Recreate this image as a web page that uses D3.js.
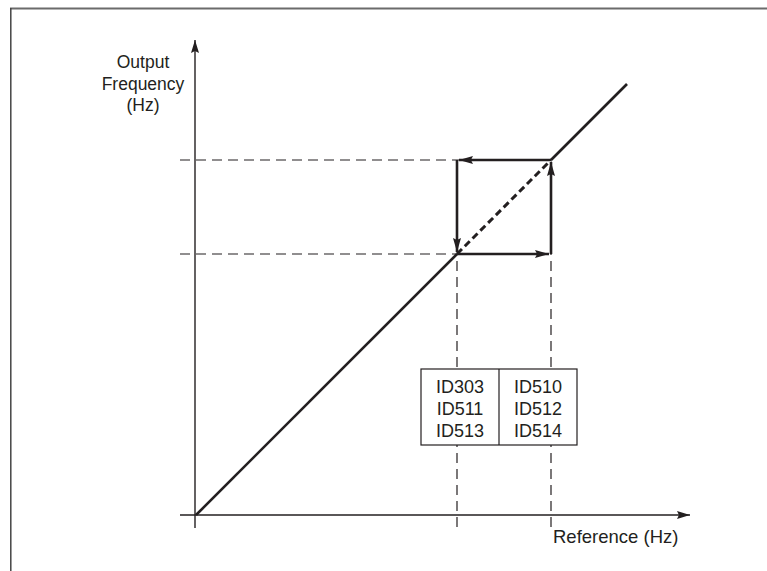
<!DOCTYPE html>
<html>
<head>
<meta charset="utf-8">
<script src="https://cdn.jsdelivr.net/npm/d3@7"></script>
<style>
  body { margin: 0; background: #fff; }
  text { font-family: "Liberation Sans", Arial, sans-serif; fill: #231f20; }
</style>
</head>
<body>
<div id="chart"></div>
<script>
// values in Hz-like units
var axisX = [-1.6, 49.4]
var axisY = [-1.3, 47.5]
var lowHz = 26.1
var highHz = 35.5
var diagonal = [0, 43.1]
var dashFrom = -1.6
var dashTo = -1.2
var tableEdges = [22.5, 30.3, 38.1]
var tableTop = 14.6
var tableBottom = 7.0
var tableCols = [['ID303', 'ID511', 'ID513'], ['ID510', 'ID512', 'ID514']]
var yLabel = ['Output', 'Frequency', '(Hz)']
var xLabel = 'Reference (Hz)'

var width = 767, height = 571
var ink = '#231f20'

var svg = d3.select('#chart').append('svg')
  .attr('width', width).attr('height', height)

var x = d3.scaleLinear().domain([0, 50]).range([196, 696])
var y = d3.scaleLinear().domain([0, 50]).range([515, 15])

// frame
svg.append('line').attr('x1', 10).attr('x2', width).attr('y1', 8.5).attr('y2', 8.5)
  .attr('stroke', '#6b6b6b').attr('stroke-width', 2.2)
svg.append('line').attr('x1', 10.8).attr('x2', 10.8).attr('y1', 8).attr('y2', height)
  .attr('stroke', '#444').attr('stroke-width', 1.5)

var defs = svg.append('defs')
function marker(id, w, l) {
  defs.append('marker').attr('id', id)
    .attr('viewBox', '0 0 ' + l + ' ' + w)
    .attr('markerUnits', 'userSpaceOnUse')
    .attr('markerWidth', l).attr('markerHeight', w)
    .attr('refX', l).attr('refY', w / 2)
    .attr('orient', 'auto')
    .append('path').attr('d', 'M0,0L' + l + ',' + (w / 2) + 'L0,' + w + 'L' + (l * 0.15) + ',' + (w / 2) + 'Z')
    .attr('fill', ink)
}
marker('axhead', 8, 13)
marker('head', 8, 14)

// dashed guide lines
var guides = svg.append('g').attr('stroke', ink).attr('stroke-width', 1.2)
  .attr('stroke-dasharray', '10,6').attr('fill', 'none')
;[lowHz, highHz].forEach(function(v) {
  guides.append('line').attr('x1', x(dashFrom)).attr('x2', x(v)).attr('y1', y(v)).attr('y2', y(v))
  guides.append('line').attr('x1', x(v)).attr('x2', x(v)).attr('y1', y(dashTo)).attr('y2', y(lowHz))
})

// table (covers the dashed lines)
var tb = svg.append('g')
tb.append('rect')
  .attr('x', x(tableEdges[0])).attr('y', y(tableTop))
  .attr('width', x(tableEdges[2]) - x(tableEdges[0]))
  .attr('height', y(tableBottom) - y(tableTop))
  .attr('fill', '#fff').attr('stroke', ink).attr('stroke-width', 1.2)
tb.append('line').attr('x1', x(tableEdges[1])).attr('x2', x(tableEdges[1]))
  .attr('y1', y(tableTop)).attr('y2', y(tableBottom))
  .attr('stroke', ink).attr('stroke-width', 1.2)
tableCols.forEach(function(col, i) {
  var cx = (x(tableEdges[i]) + x(tableEdges[i + 1])) / 2
  col.forEach(function(t, j) {
    tb.append('text').attr('x', cx).attr('y', y(tableTop) + 24 + j * 22)
      .attr('text-anchor', 'middle').style('font-size', '18px').text(t)
  })
})

// axes
svg.append('line').attr('x1', x(axisX[0])).attr('x2', x(axisX[1])).attr('y1', y(0)).attr('y2', y(0))
  .attr('stroke', ink).attr('stroke-width', 1.4).attr('marker-end', 'url(#axhead)')
svg.append('line').attr('x1', x(-0.1)).attr('x2', x(-0.1)).attr('y1', y(axisY[0])).attr('y2', y(axisY[1]))
  .attr('stroke', ink).attr('stroke-width', 1.4).attr('marker-end', 'url(#axhead)')

// characteristic: solid outside, dashed inside the hysteresis band
var diag = svg.append('g').attr('stroke', ink).attr('fill', 'none')
diag.append('line').attr('x1', x(diagonal[0])).attr('y1', y(diagonal[0]))
  .attr('x2', x(lowHz)).attr('y2', y(lowHz)).attr('stroke-width', 2.6)
diag.append('line').attr('x1', x(highHz)).attr('y1', y(highHz))
  .attr('x2', x(diagonal[1])).attr('y2', y(diagonal[1])).attr('stroke-width', 2.6)
diag.append('line').attr('x1', x(lowHz)).attr('y1', y(lowHz))
  .attr('x2', x(highHz)).attr('y2', y(highHz)).attr('stroke-width', 3)
  .attr('stroke-dasharray', '7,4')

// hysteresis loop arrows
var loop = [
  [[highHz, highHz], [lowHz, highHz]],
  [[lowHz, highHz], [lowHz, lowHz]],
  [[lowHz, lowHz], [highHz, lowHz]],
  [[highHz, lowHz], [highHz, highHz]]
]
loop.forEach(function(seg) {
  var x1 = x(seg[0][0]), y1 = y(seg[0][1]), x2 = x(seg[1][0]), y2 = y(seg[1][1])
  var dx = Math.sign(x2 - x1), dy = Math.sign(y2 - y1)
  svg.append('line').attr('x1', x1).attr('y1', y1)
    .attr('x2', x2 - dx * 2).attr('y2', y2 - dy * 2)
    .attr('stroke', ink).attr('stroke-width', 2.6)
    .attr('marker-end', 'url(#head)')
})

// labels
yLabel.forEach(function(t, i) {
  svg.append('text').attr('x', 143).attr('y', 68 + i * 21.5)
    .attr('text-anchor', 'middle').style('font-size', '17.5px').text(t)
})
svg.append('text').attr('x', 553).attr('y', 543)
  .style('font-size', '18.5px').text(xLabel)
</script>
</body>
</html>
